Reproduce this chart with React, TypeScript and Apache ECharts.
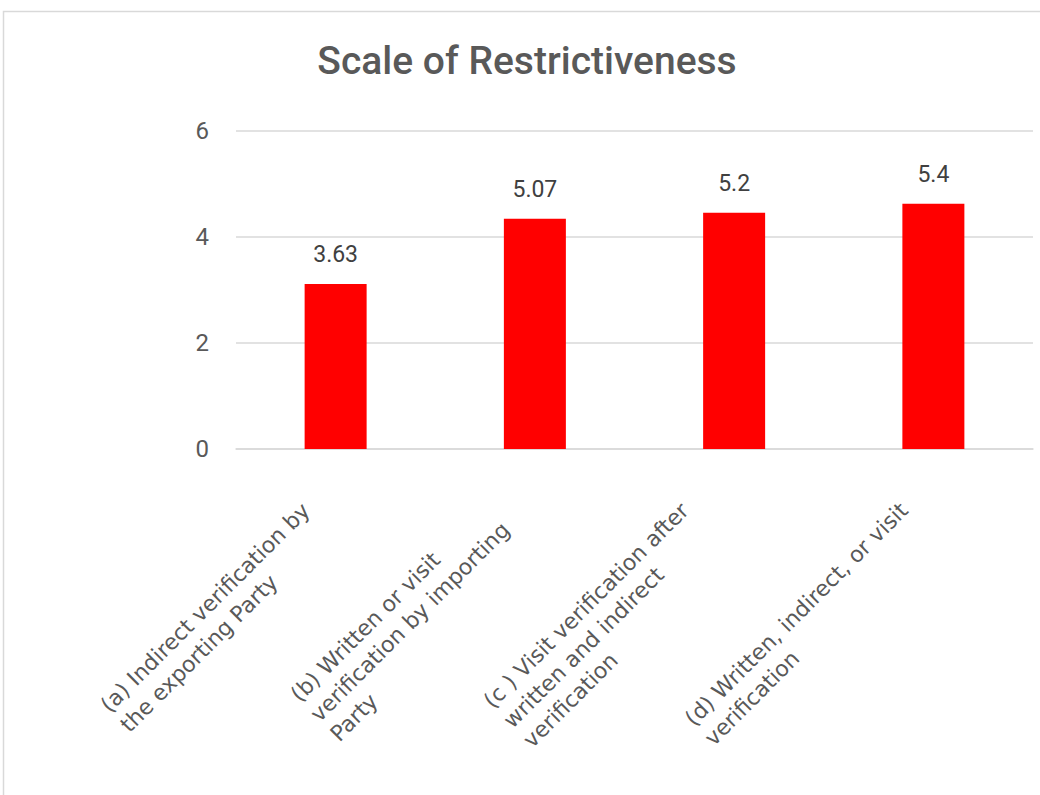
import React, { useEffect, useRef } from 'react';
import * as echarts from 'echarts';

// Category names, already broken into the lines they are printed on
const categoryLines: string[][] = [
  ['(a) Indirect verification by', 'the exporting Party'],
  ['(b) Written or visit', 'verification by importing', 'Party'],
  ['(c ) Visit verification after', 'written and indirect', 'verification'],
  ['(d) Written, indirect, or visit', 'verification'],
];
const categories: string[] = categoryLines.map((lines) => lines.join(' '));

// Restrictiveness score per verification method
const scores: number[] = [3.63, 5.07, 5.2, 5.4];

// Printed value-axis ticks
const yTicks: number[] = [0, 2, 4, 6];

// Upper bound of the scale the bars are plotted against
const barScaleMax = 7;

const TITLE = 'Scale of Restrictiveness';

const LABEL_FONT = 'DejaVu Sans';
const LABEL_SIZE = 22;
const LABEL_LINE = 28;
const TEXT_GREY = '#595959';
const GRID_GREY = '#d9d9d9';

function textWidth(text: string): number {
  const ctx = document.createElement('canvas').getContext('2d');
  if (!ctx) return text.length * LABEL_SIZE * 0.6;
  ctx.font = `${LABEL_SIZE}px ${LABEL_FONT}`;
  return ctx.measureText(text).width;
}

export default function App() {
  const ref = useRef<HTMLDivElement>(null);

  useEffect(() => {
    if (!ref.current) return;
    const chart = echarts.init(ref.current, null, { renderer: 'svg' });

    // One rich style per category: lines are left-aligned inside a box as wide
    // as the longest line, plus some slack that pulls the block down-left.
    const rich: Record<string, any> = {};
    categoryLines.forEach((lines, i) => {
      const widest = Math.max(...lines.map(textWidth));
      const blockH = lines.length * LABEL_LINE;
      rich['c' + i] = {
        fontFamily: LABEL_FONT,
        fontSize: LABEL_SIZE,
        lineHeight: LABEL_LINE,
        color: TEXT_GREY,
        align: 'left',
        width: Math.ceil(widest + Math.max(0, 0.5 * blockH - 1)),
      };
    });

    const yMin = yTicks[0];
    const yMax = yTicks[yTicks.length - 1];
    const yStep = yTicks[1] - yTicks[0];

    chart.setOption({
      animation: false,
      backgroundColor: '#ffffff',
      graphic: [
        {
          type: 'rect',
          silent: true,
          shape: { x: 3.5, y: 11.5, width: 1200, height: 900 },
          style: { fill: 'none', stroke: GRID_GREY, lineWidth: 1.5 },
        },
        {
          type: 'text',
          x: 527,
          y: 61,
          style: {
            text: TITLE,
            align: 'center',
            verticalAlign: 'middle',
            fontFamily: 'Roboto',
            fontWeight: 500,
            fontSize: 39,
            fill: TEXT_GREY,
          },
        },
      ],
      grid: { left: 236, right: 7, top: 131, bottom: 346, containLabel: false },
      xAxis: {
        type: 'category',
        data: categories,
        axisTick: { show: false },
        axisLine: { lineStyle: { color: GRID_GREY, width: 1.5 } },
        axisLabel: {
          interval: 0,
          rotate: 45,
          margin: 48,
          fontFamily: LABEL_FONT,
          fontSize: LABEL_SIZE,
          color: TEXT_GREY,
          formatter: (_: string, idx: number) =>
            categoryLines[idx].map((l) => `{c${idx}|${l}}`).join('\n'),
          rich,
        },
      },
      yAxis: [
        {
          type: 'value',
          min: yMin,
          max: yMax,
          interval: yStep,
          axisLine: { show: false },
          axisTick: { show: false },
          axisLabel: {
            color: TEXT_GREY,
            fontFamily: 'Roboto',
            fontSize: 24,
            margin: 27,
          },
          splitLine: { lineStyle: { color: GRID_GREY, width: 1.5 } },
        },
        {
          type: 'value',
          min: 0,
          max: barScaleMax,
          show: false,
          splitLine: { show: false },
        },
      ],
      series: [
        {
          type: 'bar',
          yAxisIndex: 1,
          data: scores,
          barWidth: 62,
          itemStyle: { color: '#ff0000' },
          label: {
            show: true,
            position: 'top',
            distance: 18,
            color: '#404040',
            fontFamily: 'Roboto',
            fontSize: 23,
          },
        },
      ],
    });

    return () => chart.dispose();
  }, []);

  return (
    <div
      ref={ref}
      style={{ position: 'fixed', left: 0, top: 0, width: 1040, height: 795 }}
    />
  );
}
